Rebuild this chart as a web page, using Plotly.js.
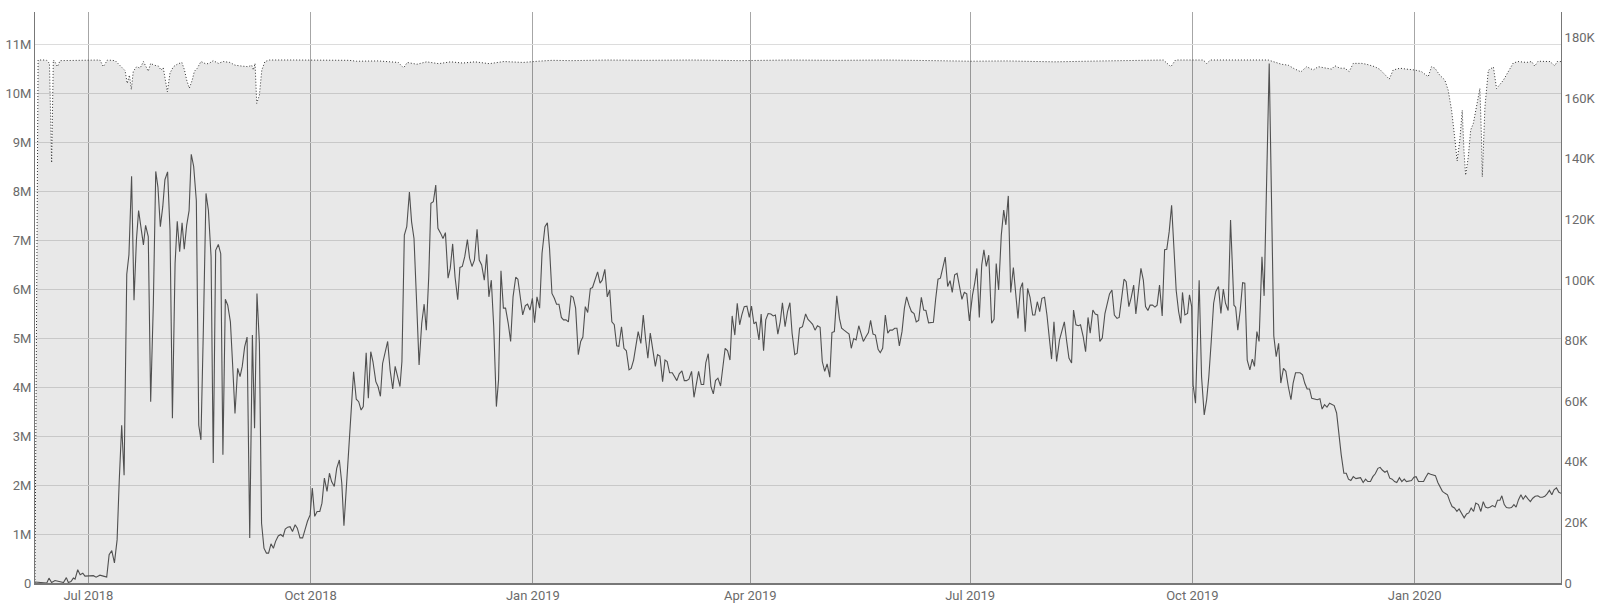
<!DOCTYPE html>
<html>
<head>
<meta charset="utf-8">
<script src="https://cdn.plot.ly/plotly-3.0.1.min.js"></script>
<style>
  html, body { margin: 0; padding: 0; background: #ffffff; }
  #chart { width: 1600px; height: 607px; }
</style>
</head>
<body>
<div id="chart"></div>
<script>
// Day offsets are days counted from 2018-07-01 (UTC).
const baseDate = '2018-07-01';

// Solid series (left axis, millions)
const mainDays = [
-22.1,-17.2,-16.3,-15.2,-13.8,-11.3,-10.3,-9.1,-8.3,-7.2,-6.2,-5.5,-4.4,-3.4,-2.3,-1.4,0,2.1,3.2,4.8,6.2,7.6,8.6,9.7,10.8,11.9,12.8,13.8,14.8,15.9,16.8,17.9,18.9,19.9,20.8,21.8,22.8,23.7,24.8,25.8,26.9,27.9,28.8,29.8,30.8,31.7,32.8,33.8,34.8,35.9,36.8,37.8,38.8,39.7,40.7,41.7,42.6,43.6,44.7,45.7,46.6,47.6,48.7,49.7,50.8,51.7,52.7,53.8,54.8,55.7,56.7,57.7,58.8,59.7,60.7,61.8,62.8,63.7,64.7,65.7,66.8,67.9,68.8,69.8,70.8,71.7,72.7,73.7,74.6,75.6,76.6,77.5,78.6,79.6,80.6,81.5,82.5,
83.5,84.5,85.6,86.5,87.6,88.7,89.7,90.7,91.8,92.7,93.7,94.7,95.8,96.7,97.7,98.8,99.8,100.7,101.8,102.8,103.9,104.9,105.8,106.9,107.9,108.9,109.8,110.9,111.9,112.9,113.8,115.0,115.9,116.9,117.8,119.0,119.9,120.9,121.8,123.0,123.9,124.9,126.0,127.0,127.9,129.0,129.8,130.8,131.8,132.9,133.8,134.8,135.9,136.9,138.0,139.0,139.9,140.9,141.8,142.8,143.8,144.7,145.8,146.8,147.8,148.9,149.8,150.8,151.8,152.9,153.8,154.8,155.8,156.9,157.8,158.8,159.8,160.9,161.8,162.8,163.9,164.9,165.8,166.8,167.8,168.9,169.8,170.8,171.8,172.7,173.8,174.8,175.8,176.9,177.8,178.8,179.8,180.9,181.8,182.8,183.8,184.7,185.7,186.8,187.8,
189.0,190.0,190.9,191.9,192.9,193.8,194.8,195.8,196.7,197.7,198.7,199.8,200.7,201.7,202.8,203.8,204.7,205.7,206.7,207.8,208.7,209.7,210.8,211.8,212.7,213.8,214.8,215.8,216.7,217.7,218.7,219.6,220.7,221.7,222.7,223.8,224.7,225.7,226.7,227.6,228.7,229.7,230.7,231.6,232.6,233.7,234.7,235.6,236.6,237.7,238.7,239.6,240.6,241.7,242.7,243.6,244.6,245.7,246.7,247.6,248.6,249.7,250.7,251.6,252.6,253.7,254.7,255.6,256.6,257.7,258.7,259.6,260.6,261.7,262.7,263.6,264.6,265.6,266.5,267.6,268.6,269.6,270.5,271.5,272.6,273.6,274.5,275.5,276.4,277.6,278.5,279.5,280.4,281.4,282.5,283.5,284.4,285.4,286.4,287.3,288.4,289.4,290.4,291.3,292.4,293.4,294.4,
295.6,296.9,297.9,298.9,299.8,300.8,301.8,302.9,303.8,304.8,305.8,306.9,307.8,308.8,309.8,310.9,311.8,312.8,313.8,314.9,315.8,316.8,317.8,318.9,319.8,320.8,321.8,322.9,323.8,324.8,325.8,326.9,327.8,328.8,329.9,330.9,331.8,332.8,333.8,334.7,335.7,336.8,337.8,338.7,339.7,340.7,341.8,342.7,343.7,344.8,345.8,346.7,347.8,348.8,349.8,350.7,351.7,352.7,353.6,354.7,355.7,356.7,357.6,358.6,359.6,360.5,361.6,362.6,363.6,364.7,366.0,366.9,367.8,368.8,369.8,370.7,371.7,372.7,373.9,374.9,375.8,376.8,377.9,378.9,379.8,380.8,381.8,382.9,383.8,384.8,385.8,386.7,387.8,388.8,389.8,390.9,391.8,392.8,393.8,394.7,395.8,396.8,397.8,398.7,399.7,400.8,
402.0,403.0,404.0,404.9,405.9,407.0,407.8,408.8,409.8,410.7,411.8,412.8,413.8,414.7,415.8,416.8,417.8,418.7,419.7,420.8,421.8,422.7,423.7,424.7,425.8,426.7,427.7,428.7,429.6,430.7,431.7,432.7,433.6,434.6,435.7,436.7,437.6,438.6,439.5,440.5,441.5,442.4,443.4,444.5,445.5,446.4,447.4,448.4,449.3,450.3,451.3,452.2,452.9,453.9,455.0,455.8,456.7,457.3,458.3,459.8,460.8,461.9,462.9,463.8,464.8,465.8,466.7,467.8,468.8,469.8,470.7,471.8,472.8,474.2,474.9,475.8,476.8,477.8,478.7,479.7,480.8,481.8,482.7,483.7,484.6,485.8,486.7,488.8,490.7,491.7,492.7,493.6,494.7,495.7,496.7,497.8,498.7,499.7,500.7,501.6,502.6,503.5,504.5,505.5,506.4,
508.7,509.8,510.7,511.7,512.7,513.8,514.7,515.7,516.7,517.6,518.6,519.7,520.7,521.6,522.6,523.6,524.7,525.6,526.6,527.7,528.7,529.6,530.7,531.7,532.7,533.8,534.7,535.7,536.7,537.6,538.7,539.7,540.7,541.6,542.7,543.7,544.7,545.6,546.6,547.7,548.7,549.6,550.6,551.6,552.7,553.6,554.6,555.6,556.7,557.6,558.6,559.6,560.5,561.6,562.6,563.6,564.5,565.5,566.5,567.4,568.5,569.5,570.5,571.4,572.4,573.4,574.3,575.4,576.4,577.4,578.3,579.3,580.3,581.2,582.3,583.3,584.3,585.1,586.1,587.0,588.1,589.1,590.1,591.0,592.0,593.0,593.9,594.9,596.0,596.9,597.9,598.9,600.0,600.9,601.9,602.9,603.8,604.8,605.8,606.7,607.7,608.7,609.6
];
const mainValuesM = [
0.02,0,0.10,0.01,0.05,0.03,0.01,0.11,0.01,0.03,0.10,0.08,0.27,0.17,0.20,0.14,0.14,0.15,0.12,0.16,0.14,0.12,0.58,0.66,0.41,0.88,2.10,3.22,2.20,6.30,6.70,8.30,5.77,7.00,7.60,7.20,6.90,7.30,7.07,3.70,5.70,8.40,8.08,7.27,7.68,8.23,8.39,7.20,3.36,6.52,7.38,6.76,7.35,6.81,7.30,7.60,8.75,8.50,7.80,3.22,2.92,5.16,7.95,7.60,6.66,2.45,6.79,6.91,6.72,2.62,5.79,5.67,5.33,4.48,3.46,4.38,4.21,4.42,4.82,5.02,0.92,5.06,3.16,5.91,4.89,1.22,0.71,0.61,0.61,0.80,0.71,0.85,0.96,0.99,0.95,1.10,1.14,
1.15,1.05,1.19,1.12,0.92,0.92,1.09,1.26,1.39,1.94,1.36,1.46,1.46,1.63,2.14,1.87,2.24,2.07,1.97,2.34,2.51,2.04,1.17,1.97,2.72,3.60,4.31,3.75,3.70,3.53,3.60,4.70,3.77,4.72,4.52,4.11,4.01,3.81,4.48,4.72,4.93,4.35,3.96,4.42,4.25,4.01,4.52,7.10,7.27,7.98,7.37,7.03,5.71,4.45,5.30,5.69,5.16,6.25,7.75,7.78,8.12,7.24,7.14,7.03,7.15,6.22,6.42,6.92,6.24,5.78,6.44,6.46,6.66,7.01,6.63,6.46,6.59,7.22,6.59,6.49,6.18,6.71,5.84,6.18,5.23,3.60,4.15,6.37,5.61,5.61,5.30,4.93,5.84,6.24,6.20,5.81,5.47,5.66,5.69,5.57,5.81,5.31,5.84,5.61,6.73,
7.27,7.35,6.83,5.91,5.81,5.69,5.69,5.42,5.37,5.37,5.33,5.86,5.83,5.61,4.66,4.93,5.02,5.64,5.52,6.01,6.03,6.18,6.35,6.12,6.18,6.40,5.84,5.98,5.33,5.27,4.84,4.83,5.23,4.79,4.74,4.35,4.38,4.55,4.89,5.13,4.89,5.47,4.96,4.59,5.10,4.76,4.42,4.66,4.63,4.11,4.55,4.52,4.29,4.29,4.20,4.13,4.27,4.33,4.13,4.13,4.16,4.32,3.79,4.08,4.32,4.05,4.05,4.50,4.68,4.01,3.86,4.13,4.18,4.02,4.42,4.79,4.74,4.55,5.45,5.06,5.71,5.27,5.47,5.64,5.65,5.42,5.65,5.29,5.33,4.96,5.49,4.74,5.37,5.50,5.49,5.45,5.47,5.08,5.33,5.72,5.23,5.54,5.72,5.10,4.66,4.69,5.20,
5.23,5.49,5.38,5.33,5.28,5.16,5.25,5.22,4.52,4.32,4.47,4.20,5.11,5.13,5.86,5.40,5.20,5.16,5.13,5.08,4.79,4.99,4.96,5.25,5.10,4.93,5.02,5.11,5.36,5.08,5.06,4.77,4.70,4.79,5.47,5.10,5.16,5.16,5.20,5.20,4.84,5.13,5.61,5.84,5.67,5.54,5.50,5.33,5.36,5.83,5.57,5.56,5.31,5.32,5.32,5.78,6.20,6.22,6.42,6.65,6.05,6.17,5.93,6.29,6.32,6.06,5.79,5.93,5.90,5.35,5.88,6.12,6.42,5.42,6.49,6.80,6.46,6.69,5.30,5.38,6.52,5.98,7.10,7.61,7.31,7.90,5.93,6.44,5.91,5.40,6.01,6.13,5.13,6.01,5.83,5.47,5.47,5.74,5.54,5.81,5.83,5.47,4.99,4.57,5.33,4.52,
4.96,5.16,5.33,4.96,4.59,4.49,5.57,5.27,5.25,5.27,5.03,4.72,5.42,5.10,5.57,5.49,5.47,4.93,5.00,5.50,5.71,5.90,5.98,5.47,5.40,5.42,5.81,6.20,6.15,5.64,5.83,6.08,5.49,5.91,6.42,6.18,5.64,5.56,5.67,5.67,5.63,5.67,6.08,5.45,6.80,6.81,7.17,7.71,7.00,5.97,5.54,5.30,5.93,5.47,5.50,5.88,5.64,4.04,3.67,6.18,4.21,3.43,3.74,4.21,4.93,5.71,5.95,6.05,5.50,6.00,5.71,5.56,7.41,5.67,5.63,5.16,5.57,6.13,6.12,4.55,4.35,4.57,4.42,5.13,4.93,6.66,5.86,10.60,5.04,4.62,4.89,4.08,4.38,4.32,4.01,3.74,4.08,4.29,4.29,4.29,4.25,4.08,3.96,3.96,3.77,
3.74,3.76,3.55,3.64,3.59,3.67,3.64,3.62,3.47,2.99,2.62,2.24,2.24,2.12,2.09,2.17,2.13,2.14,2.15,2.05,2.12,2.07,2.07,2.17,2.23,2.34,2.36,2.30,2.26,2.29,2.14,2.12,2.07,2.05,2.15,2.07,2.12,2.07,2.08,2.09,2.16,2.17,2.07,2.07,2.07,2.16,2.24,2.22,2.21,2.19,2.05,1.97,1.87,1.83,1.80,1.66,1.56,1.53,1.46,1.51,1.43,1.33,1.41,1.43,1.53,1.46,1.63,1.60,1.46,1.66,1.55,1.53,1.55,1.58,1.55,1.69,1.69,1.78,1.60,1.54,1.53,1.54,1.60,1.55,1.70,1.80,1.71,1.78,1.71,1.66,1.73,1.77,1.78,1.75,1.75,1.77,1.82,1.89,1.80,1.90,1.94,1.85,1.83
];

// Dotted series (right axis, thousands)
const dotDays = [
-22.1,-20.8,-17.4,-16.1,-15.2,-14.5,-13.9,-12.8,-11.7,-5,0,4.8,6.2,7.9,11.1,13.1,15.2,16.1,17.0,17.8,18.6,20.0,21.4,22.8,23.9,24.8,25.8,27.2,29.0,30.1,31.0,31.9,32.7,33.8,35.2,37.0,38.7,39.8,40.7,41.8,43.0,43.9,45.1,46.6,48.7,50.0,51.7,53.8,55.9,58.6,60.7,63.5,66.2,67.6,68.3,69.0,69.7,70.8,71.8,73.1,75,85,100,108,111,120,128.3,
130.5,132,136,140,145,150,155,160,166,172,180,186,192,200,215,230,250,270,290,310,330,350,365,380,400,420,435,445,448.1,450,461.5,462.9,464.5,475,488.4,493.9,496.7,499,501.9,
504.3,507.0,509.1,511.8,514.6,516.0,518.1,520.1,521.9,523.6,527.0,529.1,532.5,534.6,536.7,538.5,540.1,542.9,545.6,549.1,551.8,554.6,556.0,557.4,559.4,561.5,562.9,564.3,565.7,566.6,567.7,568.7,569.4,570.1,571.2,572.2,573.3,574.7,576.0,576.7,577.0,578.1,579.5,581.6,582.9,585.7,587.8,589.8,591.8,595.3,597.4,598.7,600.1,602.9,605.0,607.0,608.0,609.6
];
const dotValuesK = [
0,172.6,172.6,171.5,138.7,172.6,172.1,170.4,172.4,172.5,172.6,172.6,170.4,172.6,172.4,170.9,169.1,164.9,167.6,162.9,168.9,170.4,169.9,172.1,170.2,168.9,171.5,170.9,170.6,169.3,170.1,166.0,162.1,168.3,170.4,171.3,171.8,169.3,166.0,163.3,166.0,168.9,169.9,172.1,171.3,171.5,172.4,171.5,172.1,171.8,170.9,170.6,170.4,170.9,169.3,171.5,158.3,161.0,169.3,172.1,172.6,172.6,172.6,172.5,172.2,172.3,171.8,
170.0,171.8,171.2,172.0,171.4,172.0,171.6,172.0,171.4,172.1,171.8,172.2,172.5,172.4,172.6,172.5,172.6,172.4,172.6,172.5,172.6,172.4,172.2,172.3,172.0,172.3,172.5,172.6,170.4,172.6,172.6,171.5,172.6,172.6,172.6,171.2,170.9,169.8,168.7,
170.4,169.3,170.4,170.1,169.6,170.7,169.9,169.9,168.8,171.5,171.5,171.2,170.4,169.5,167.6,166.3,169.3,169.9,169.6,169.3,168.8,167.1,170.4,169.9,167.6,166.0,162.6,156.0,146.2,139.3,146.2,156.0,142.9,134.6,140.6,149.5,151.7,157.1,163.2,146.2,134.1,157.1,169.2,170.3,163.2,165.9,168.7,171.6,172.1,171.8,172.1,170.6,172.2,172.2,172.1,170.7,172.1,172.1
];

// Axis ticks
const leftTickVals = [0,1,2,3,4,5,6,7,8,9,10,11];
const leftTickText = ['0','1M','2M','3M','4M','5M','6M','7M','8M','9M','10M','11M'];
const rightTickVals = [0,20,40,60,80,100,120,140,160,180];
const rightTickText = ['0','20K','40K','60K','80K','100K','120K','140K','160K','180K'];
const xRange = ['2018-06-08 22:00', '2020-03-01 14:00'];

const baseMs = Date.parse(baseDate + 'T00:00:00Z');
const toMs = d => baseMs + d * 86400000;

const font = {family: 'Roboto, "Open Sans", sans-serif', size: 13, color: '#6b6b6b'};

const traces = [
  {
    x: dotDays.map(toMs), y: dotValuesK,
    type: 'scatter', mode: 'lines', xaxis: 'x', yaxis: 'y',
    line: {color: '#333333', width: 1, dash: '1px,2px'},
    fill: 'tozeroy', fillcolor: 'rgba(0,0,0,0.09)',
    hoverinfo: 'skip', showlegend: false
  },
  {
    x: mainDays.map(toMs), y: mainValuesM,
    type: 'scatter', mode: 'lines', xaxis: 'x', yaxis: 'y2',
    line: {color: '#505050', width: 1.1},
    hoverinfo: 'skip', showlegend: false
  }
];

const layout = {
  width: 1600, height: 607,
  margin: {l: 35, r: 39, t: 12, b: 24, pad: 0},
  paper_bgcolor: '#ffffff', plot_bgcolor: '#ffffff',
  showlegend: false,
  font: font,
  xaxis: {
    type: 'date', range: xRange,
    tick0: '2018-07-01', dtick: 'M3', tickformat: '%b %Y',
    showgrid: true, gridcolor: '#a6a6a6', gridwidth: 1,
    showline: true, linecolor: '#777777', linewidth: 1.5,
    ticks: '', zeroline: false, tickfont: font
  },
  yaxis: {
    side: 'right', range: [0, 188.45],
    tickmode: 'array', tickvals: rightTickVals, ticktext: rightTickText,
    showgrid: false, zeroline: false,
    showline: true, linecolor: '#777777', linewidth: 1,
    ticks: '', tickfont: font
  },
  yaxis2: {
    side: 'left', overlaying: 'y', range: [0, 11.653],
    tickmode: 'array', tickvals: leftTickVals, ticktext: leftTickText,
    showgrid: true, gridcolor: '#dcdcdc', gridwidth: 1,
    zeroline: false,
    showline: true, linecolor: '#777777', linewidth: 1,
    ticks: '', tickfont: font
  }
};

Plotly.newPlot('chart', traces, layout, {displayModeBar: false, staticPlot: true});
</script>
</body>
</html>
